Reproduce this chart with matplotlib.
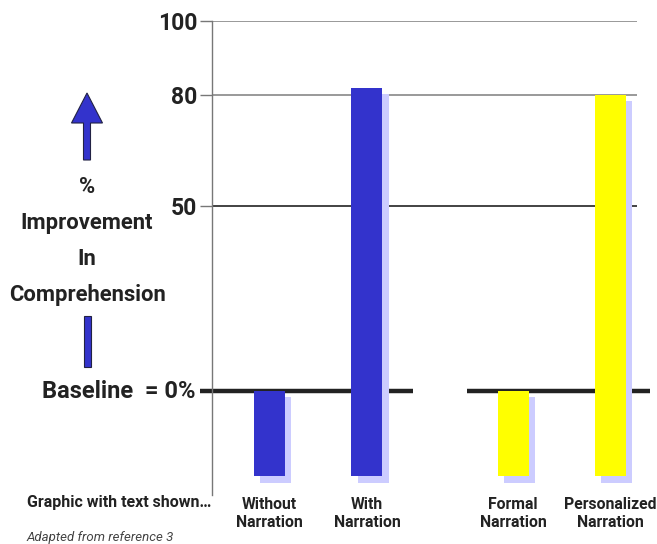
import matplotlib
matplotlib.use("Agg")
import matplotlib.pyplot as plt
from matplotlib import patheffects
from matplotlib.patches import FancyArrow, Rectangle

# Data
categories = ["Without\nNarration", "With\nNarration", "Formal\nNarration", "Personalized\nNarration"]
improvement = [0, 82, 0, 80]
bar_floor = -23
tick_values = [100, 80, 50]
tick_labels = ["100", "80", "50"]

positions = [0, 1, 2.5, 3.5]
colors = ["#3333cc", "#3333cc", "#ffff00", "#ffff00"]
shadow = "#ccccff"
ink = "#222222"
FONT = ["Roboto", "DejaVu Sans"]

W, H = 657, 544
fig = plt.figure(figsize=(W / 100, H / 100), dpi=100)
ax = fig.add_axes([212 / W, 49 / H, 425 / W, 474 / H])
ax.set_xlim(-0.59, 3.77)
ax.set_ylim(-28, 100)

for s in ["top", "right", "bottom"]:
    ax.spines[s].set_visible(False)
ax.spines["left"].set_color("#777777")
ax.spines["left"].set_linewidth(1.0)
ax.set_xticks([])

ax.set_yticks(tick_values)
ax.set_yticklabels(tick_labels, fontfamily=FONT, fontweight="bold", fontsize=16.5, color=ink)
ax.tick_params(axis="y", length=8.6, width=1.0, color="#777777", pad=2)

# Horizontal reference lines
grid_colors = {100: "#888888", 80: "#888888", 50: "#222222"}
for v in tick_values:
    ax.axhline(v, color=grid_colors[v], lw=1.2, zorder=1)

# Thick baseline at 0, split into two segments
for x0, x1 in [(-0.713, 1.47), (2.026, 3.90)]:
    ax.plot([x0, x1], [0, 0], color=ink, lw=3.2, solid_capstyle="butt",
            clip_on=False, zorder=2)

# Bars with drop shadow
width = 0.318
bars = ax.bar(positions, [v - bar_floor for v in improvement], bottom=bar_floor,
              width=width, color=colors, zorder=3, linewidth=0)
for b in bars:
    b.set_path_effects([
        patheffects.SimplePatchShadow(offset=(4.4, -4.4), shadow_rgbFace=shadow, alpha=1.0),
        patheffects.Normal(),
    ])

# Category labels
for p, c in zip(positions, categories):
    ax.text(p, -28.5, c, ha="center", va="top", fontfamily=FONT, fontweight="bold",
            fontsize=11.3, color=ink, linespacing=1.3, transform=ax.transData,
            clip_on=False)

# Left-side annotations (figure pixel coords)
def fx(x):
    return x / W

def fy(y):
    return 1 - y / H

for txt, y in [("%", 187), ("Improvement", 223), ("In", 259), ("Comprehension", 295)]:
    fig.text(fx(87), fy(y), txt, ha="center", va="center", fontfamily=FONT,
             fontweight="bold", fontsize=15.8, color=ink)

fig.text(fx(196), fy(391), "Baseline  = 0%", ha="right", va="center", fontfamily=FONT,
         fontweight="bold", fontsize=17, color=ink)

fig.text(fx(27), fy(503), "Graphic with text shown…", ha="left", va="center",
         fontfamily=FONT, fontweight="bold", fontsize=11.5, color=ink)
fig.text(fx(27), fy(537), "Adapted from reference 3", ha="left", va="center",
         fontfamily=FONT, fontstyle="italic", fontsize=9.5, color="#444444")

# Upward arrow and lower shaft
arrow = FancyArrow(fx(87), fy(160), 0, fy(93) - fy(160), width=7 / W,
                   head_width=31 / W, head_length=(123 - 93) / H,
                   length_includes_head=True, transform=fig.transFigure,
                   facecolor="#3333cc", edgecolor="#222244", lw=0.8)
fig.add_artist(arrow)
fig.add_artist(Rectangle((fx(84), fy(367)), fx(7), (367 - 316) / H,
                         transform=fig.transFigure, facecolor="#3333cc",
                         edgecolor="#222244", lw=0.8))

fig.savefig("out.png", dpi=100)
